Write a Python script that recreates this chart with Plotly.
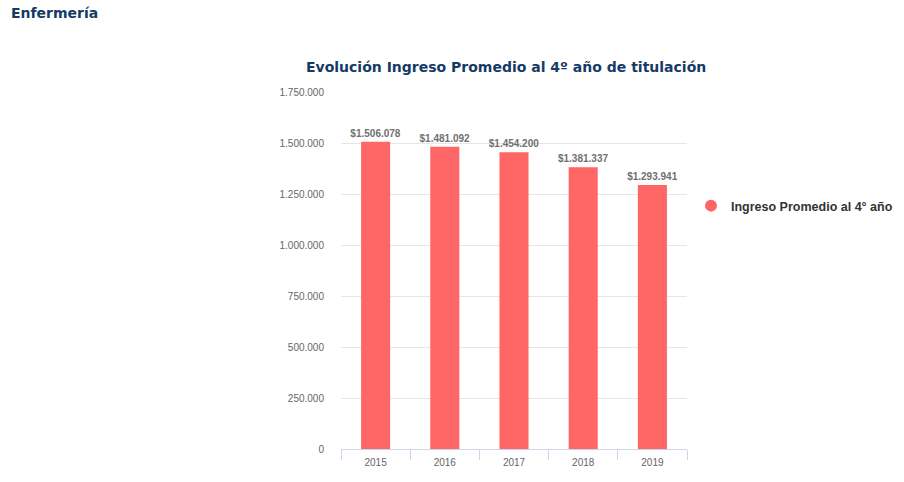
import plotly.graph_objects as go

years = ["2015", "2016", "2017", "2018", "2019"]
ingreso = [1506078, 1481092, 1454200, 1381337, 1293941]
series_name = "Ingreso Promedio al 4° año"
chart_title = "Evolución Ingreso Promedio al 4º año de titulación"
page_title = "Enfermería"
tick_vals = [0, 250000, 500000, 750000, 1000000, 1250000, 1500000, 1750000]

W, H = 904, 482
L, R, T, B = 341, 687, 92, 449

def px_x(x):
    return (x - L) / (R - L)

def px_y(y):
    return (B - y) / (B - T)

fig = go.Figure()
fig.add_trace(go.Bar(
    x=years, y=ingreso, marker=dict(color="#ff6666", line=dict(width=0)),
    texttemplate="<b>$%{y:,.0f}</b>", textposition="outside", cliponaxis=False,
    constraintext="none",
    textfont=dict(family="Liberation Sans, Arial", size=10, color="#707070"),
    showlegend=False, hoverinfo="skip",
))
fig.add_trace(go.Scatter(
    x=[None], y=[None], mode="markers", name="<b>" + series_name + "</b>",
    marker=dict(symbol="circle", size=12, color="#ff6666"),
))

fig.update_layout(
    width=W, height=H,
    margin=dict(l=L, r=W - R, t=T, b=H - B, pad=0, autoexpand=False),
    paper_bgcolor="white", plot_bgcolor="white",
    separators=",.",
    bargap=0.58,
    showlegend=True,
    legend=dict(xref="container", yref="container", x=691 / W, y=(H - 206) / H,
                xanchor="left", yanchor="middle",
                font=dict(family="Liberation Sans, Arial", size=12.5, color="#333333"),
                itemsizing="constant", itemwidth=30),
    xaxis=dict(type="category", tickson="boundaries", ticks="outside", ticklen=10,
               tickcolor="#ccd6eb", showline=True, linecolor="#ccd6eb", linewidth=1,
               showgrid=False, tickfont=dict(family="Liberation Sans, Arial", size=10, color="#666666"),
               fixedrange=True),
    yaxis=dict(range=[0, 1750000], tickvals=tick_vals, tickformat=",.0f",
               showgrid=True, gridcolor="#e6e6e6", gridwidth=1, zeroline=False,
               showline=False, ticks="", ticklen=0,
               tickfont=dict(family="Liberation Sans, Arial", size=10, color="#666666"),
               automargin=False),
    annotations=[
        dict(text="<b>" + chart_title + "</b>", xref="paper", yref="paper",
             x=px_x(506), y=px_y(67), xanchor="center", yanchor="middle", showarrow=False,
             borderpad=0,
             font=dict(family="DejaVu Sans, Verdana", size=14, color="#163a66")),
        dict(text="<b>" + page_title + "</b>", xref="paper", yref="paper",
             x=px_x(10), y=px_y(13), xanchor="left", yanchor="middle", showarrow=False,
             borderpad=0,
             font=dict(family="DejaVu Sans, Verdana", size=14, color="#163a66")),
    ],
)
fig.update_yaxes(ticklabelstandoff=16)
fig.update_xaxes(ticklabelstandoff=4)

fig.write_html("out.html")
